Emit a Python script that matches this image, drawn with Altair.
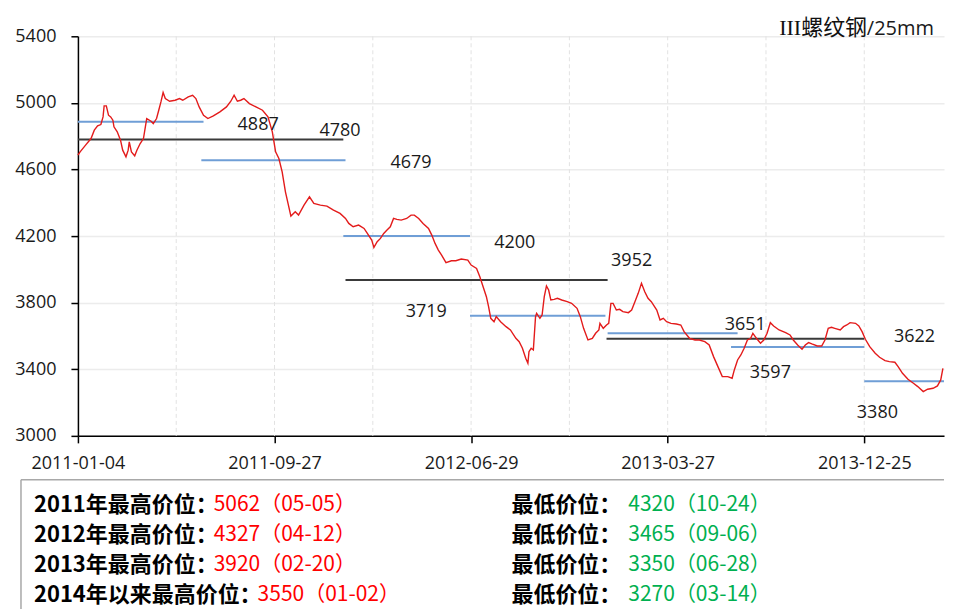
import altair as alt
import pandas as pd

# ---------------- data ----------------
# red price line: trading-day index (0 = 2011-01-04) and price
day = [0, 2, 7, 12, 15, 18, 21, 23, 24, 26, 28, 30, 32, 33, 36, 39, 41, 44, 46, 47,
       49, 52, 54, 57, 60, 62, 63, 67, 69, 72, 74, 76, 78, 80, 84, 89, 93, 96, 101, 105,
       108, 111, 115, 119, 124, 130, 136, 140, 143, 146, 149, 152, 157, 163, 169, 174, 178, 181, 184, 187,
       190, 195, 199, 202, 207, 212, 216, 222, 228, 234, 240, 245, 248, 252, 257, 262, 265, 269, 271, 274,
       277, 280, 283, 286, 289, 292, 296, 301, 305, 308, 312, 316, 321, 324, 327, 330, 333, 337, 342, 346,
       351, 357, 360, 365, 368, 371, 374, 376, 378, 381, 383, 387, 392, 396, 401, 404, 407, 410, 412, 413,
       415, 417, 419, 420, 423, 425, 427, 429, 431, 433, 436, 439, 443, 448, 452, 457, 460, 463, 467, 471,
       474, 477, 478, 481, 484, 486, 488, 490, 493, 496, 499, 504, 507, 510, 513, 516, 519, 522, 525, 530,
       533, 536, 539, 543, 548, 552, 555, 560, 565, 569, 574, 578, 582, 586, 590, 595, 599, 601, 604, 607,
       610, 613, 616, 618, 622, 625, 628, 631, 634, 637, 642, 648, 652, 655, 659, 663, 666, 669, 672, 677,
       681, 684, 687, 690, 693, 698, 701, 704, 707, 712, 715, 718, 721, 725, 730, 734, 739, 743, 748, 751,
       755, 760, 765, 769, 774, 778, 783, 787, 790, 792]
price = [4686, 4706, 4746, 4786, 4836, 4862, 4870, 4916, 4982, 4982, 4926, 4916, 4896, 4856, 4826, 4776, 4716, 4676, 4716, 4766,
         4706, 4682, 4716, 4756, 4786, 4866, 4906, 4890, 4876, 4906, 4956, 5006, 5062, 5026, 5010, 5016, 5026, 5016, 5036, 5046,
         5026, 4976, 4926, 4906, 4922, 4946, 4976, 5010, 5046, 5010, 5016, 5026, 4996, 4976, 4956, 4916, 4826, 4706, 4666, 4586,
         4466, 4320, 4346, 4326, 4386, 4436, 4396, 4386, 4380, 4356, 4336, 4306, 4276, 4256, 4266, 4246, 4216, 4176, 4132, 4166,
         4186, 4216, 4236, 4256, 4306, 4300, 4296, 4306, 4326, 4326, 4306, 4276, 4246, 4206, 4156, 4116, 4086, 4040, 4052, 4052,
         4062, 4056, 4026, 4006, 3956, 3896, 3836, 3776, 3706, 3686, 3716, 3686, 3656, 3636, 3586, 3566, 3526, 3466, 3436, 3506,
         3526, 3516, 3716, 3736, 3706, 3726, 3836, 3900, 3876, 3816, 3820, 3826, 3816, 3806, 3796, 3766, 3716, 3646, 3576, 3586,
         3616, 3636, 3676, 3646, 3666, 3676, 3796, 3796, 3756, 3760, 3746, 3740, 3756, 3806, 3856, 3916, 3866, 3826, 3806, 3756,
         3696, 3706, 3686, 3676, 3672, 3666, 3626, 3586, 3576, 3576, 3566, 3546, 3476, 3416, 3356, 3356, 3346, 3396, 3456, 3486,
         3526, 3576, 3586, 3616, 3580, 3556, 3576, 3616, 3680, 3660, 3636, 3620, 3606, 3576, 3546, 3520, 3546, 3560, 3552, 3540,
         3540, 3576, 3646, 3652, 3646, 3636, 3656, 3666, 3680, 3676, 3660, 3626, 3580, 3536, 3496, 3472, 3452, 3446, 3442, 3416,
         3376, 3340, 3316, 3296, 3266, 3280, 3286, 3300, 3336, 3406]

# average levels (blue = half-year, dark = full year)
seg_start = [0, 113, 0, 243, 245, 359, 485, 484, 598, 720]
seg_end = [115, 245, 243, 359, 485, 483, 604, 720, 720, 793]
seg_level = [4887, 4656, 4780, 4200, 3936, 3722, 3616, 3584, 3534, 3328]
seg_kind = ["half", "half", "year", "half", "year", "half", "half", "year", "half", "half"]

# value labels written on the chart
ann_text = ["4887", "4780", "4679", "4200", "3952", "3719", "3651", "3597", "3622", "3380"]
ann_day = [165, 240, 305, 400, 507, 319, 611, 634, 766, 732]
ann_price = [4866, 4830, 4636, 4156, 4052, 3742, 3666, 3380, 3592, 3136]

# axes
x_domain = [0, 793]
y_domain = [3000, 5400]
y_ticks = [3000, 3400, 3800, 4200, 4600, 5000, 5400]
tick_days = [0, 180, 360, 540, 720]
tick_labels = ["2011-01-04", "2011-09-27", "2012-06-29", "2013-03-27", "2013-12-25"]
grid_days = [90, 180, 270, 360, 450, 540, 630, 720]

title_main = "III螺纹钢"
title_unit = "/25mm"

# table below the chart
years = ["2011年", "2012年", "2013年", "2014年以来"]
high_price = [5062, 4327, 3920, 3550]
high_date = ["05-05", "04-12", "02-20", "01-02"]
low_price = [4320, 3465, 3350, 3270]
low_date = ["10-24", "09-06", "06-28", "03-14"]

# ---------------- styling / layout ----------------
RED = "#e31b1b"
BLUE = "#6f9ed6"
DARK = "#3a3a3a"
TXT = "#1a1a1a"
LABEL_FS = 22
VALUE_FS = 21
PW, PH = 867, 400

line_df = pd.DataFrame({"day": day, "price": price})
seg_df = pd.DataFrame({"start": seg_start, "end": seg_end, "level": seg_level, "kind": seg_kind})
ann_df = pd.DataFrame({"day": ann_day, "price": ann_price, "label": ann_text})
grid_df = pd.DataFrame({"day": grid_days})
title_df = pd.DataFrame({"day": [x_domain[1]], "price": [y_domain[1]],
                         "main": [title_main], "unit": [title_unit]})

label_expr = " : ".join(
    f"datum.value == {d} ? '{t}'" for d, t in zip(tick_days, tick_labels)
) + " : ''"

x_scale = alt.Scale(domain=x_domain, nice=False, zero=False)
y_scale = alt.Scale(domain=y_domain, nice=False, zero=False)
x_axis = alt.Axis(values=tick_days, labelExpr=label_expr, grid=False, title=None,
                  tickSize=7, tickColor="#000", tickWidth=1.5, domainColor="#000",
                  domainWidth=1.5, labelFont="Open Sans", labelFontSize=18,
                  labelColor=TXT, labelPadding=12, labelFlush=False, labelOverlap=False)
y_axis = alt.Axis(values=y_ticks, format="d", grid=True, gridColor="#ececec", gridWidth=1.5,
                  title=None, tickSize=7, tickColor="#000", tickWidth=1.5,
                  domainColor="#000", domainWidth=1.5, labelFont="Open Sans",
                  labelFontSize=18, labelColor=TXT, labelPadding=15)

vgrid = alt.Chart(grid_df).mark_rule(color="#e2e2e2", strokeDash=[4, 3], strokeWidth=1).encode(
    x=alt.X("day:Q", scale=x_scale, axis=x_axis)
)
segs = alt.Chart(seg_df).mark_rule(strokeWidth=2).encode(
    x=alt.X("start:Q", scale=x_scale, axis=x_axis),
    x2="end:Q",
    y=alt.Y("level:Q", scale=y_scale, axis=y_axis),
    color=alt.Color("kind:N", scale=alt.Scale(domain=["half", "year"], range=[BLUE, DARK]), legend=None),
)
line = alt.Chart(line_df).mark_line(color=RED, strokeWidth=1.4).encode(
    x=alt.X("day:Q", scale=x_scale, axis=x_axis),
    y=alt.Y("price:Q", scale=y_scale, axis=y_axis),
)
ann = alt.Chart(ann_df).mark_text(font="Open Sans", fontSize=18, color=TXT,
                                  align="center", baseline="middle").encode(
    x=alt.X("day:Q", scale=x_scale, axis=x_axis),
    y=alt.Y("price:Q", scale=y_scale, axis=y_axis),
    text="label:N",
)
t_unit = alt.Chart(title_df).mark_text(font="Open Sans", fontSize=20, color=TXT,
                                       align="right", baseline="alphabetic", dx=-10, dy=-1).encode(
    x=alt.X("day:Q", scale=x_scale, axis=x_axis),
    y=alt.Y("price:Q", scale=y_scale, axis=y_axis),
    text="unit:N",
)
t_main = alt.Chart(title_df).mark_text(font="Liberation Serif, Noto Sans CJK SC", fontSize=22,
                                       color="#111", align="right", baseline="alphabetic",
                                       dx=-77, dy=-1).encode(
    x=alt.X("day:Q", scale=x_scale, axis=x_axis),
    y=alt.Y("price:Q", scale=y_scale, axis=y_axis),
    text="main:N",
)

top = alt.layer(vgrid, segs, line, ann, t_unit, t_main).properties(width=PW, height=PH)

# ---------------- table (x units = pixels from the plot's left edge) ----------------
TW = PW
ROW_DOMAIN = [-0.85, 3.65]
BOX_LEFT = -57
COL_LEFT = -44
COL_RIGHT = 434
GAP = 3
GAP_RIGHT = 7


def est_width(s, fs):
    return sum(0.51 * fs if ch.isascii() else fs for ch in s)


low_label = "最低价位："
rows = []
for i in range(len(years)):
    lab = f"{years[i]}最高价位："
    rows.append({
        "row": i,
        "label": lab,
        "hi": f"{high_price[i]}（{high_date[i]}）",
        "lo_label": low_label,
        "lo": f"{low_price[i]}（{low_date[i]}）",
        "x_label": COL_LEFT,
        "x_hi": COL_LEFT + est_width(lab, LABEL_FS) + GAP,
        "x_lo_label": COL_RIGHT,
        "x_lo": COL_RIGHT + est_width(low_label, LABEL_FS) + GAP_RIGHT,
    })
tbl = pd.DataFrame(rows)

tx_scale = alt.Scale(domain=[0, TW], nice=False, zero=False)
ty_scale = alt.Scale(domain=ROW_DOMAIN, nice=False, zero=False, reverse=True)

edge_df = pd.DataFrame({"x": [BOX_LEFT, BOX_LEFT], "x2": [TW, BOX_LEFT],
                        "y": [ROW_DOMAIN[0], ROW_DOMAIN[0]], "y2": [ROW_DOMAIN[0], ROW_DOMAIN[1]]})
box = alt.Chart(edge_df).mark_rule(color="#a8a8a8", strokeWidth=1.5).encode(
    x=alt.X("x:Q", scale=tx_scale, axis=None), x2="x2:Q",
    y=alt.Y("y:Q", scale=ty_scale, axis=None), y2="y2:Q",
)


def txt(xf, tf, color, bold, fs):
    return alt.Chart(tbl).mark_text(
        font="Noto Sans CJK SC", fontSize=fs, fontWeight="bold" if bold else "normal",
        color=color, align="left", baseline="middle",
    ).encode(
        x=alt.X(f"{xf}:Q", scale=tx_scale, axis=None),
        y=alt.Y("row:Q", scale=ty_scale, axis=None),
        text=f"{tf}:N",
    )


table = alt.layer(
    box,
    txt("x_label", "label", "#000", True, LABEL_FS),
    txt("x_hi", "hi", "#ff0000", False, VALUE_FS),
    txt("x_lo_label", "lo_label", "#000", True, LABEL_FS),
    txt("x_lo", "lo", "#00b050", False, VALUE_FS),
).properties(width=TW, height=135)

chart = alt.vconcat(top, table, spacing=6).properties(
    padding={"left": 6, "top": 9, "right": 0, "bottom": 0}
).configure_view(stroke=None)

chart.save("out.html", embed_options={"renderer": "svg", "actions": False})
